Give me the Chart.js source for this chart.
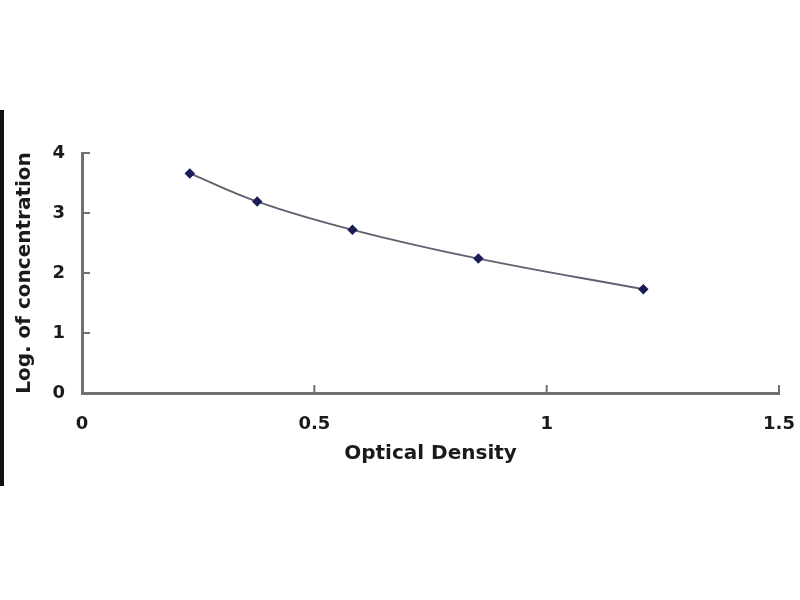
<!DOCTYPE html>
<html>
<head>
<meta charset="utf-8">
<script src="https://cdn.jsdelivr.net/npm/chart.js@4/dist/chart.umd.min.js"></script>
<style>
  html, body { margin: 0; padding: 0; background: #fff; }
  #wrap { position: relative; width: 800px; height: 600px; }
  #edge { position: absolute; left: 0; top: 110px; width: 4px; height: 376px; background: #111; }
</style>
</head>
<body>
<div id="wrap">
  <canvas id="stdCurve" width="800" height="600"></canvas>
  <div id="edge"></div>
</div>
<script>
// standard curve readings
const opticalDensity = [0.232, 0.377, 0.582, 0.853, 1.208];
const logConcentration = [3.66, 3.19, 2.72, 2.24, 1.73];
const xTicks = [0, 0.5, 1, 1.5];
const yTicks = [0, 1, 2, 3, 4];

const axisColor = '#707070';
const labelFont = { family: 'DejaVu Sans', size: 18, weight: 'bold' };
const titleFont = { family: 'DejaVu Sans', size: 20, weight: 'bold' };

// Excel style ticks pointing into the plot
const innerTicks = {
    id: 'innerTicks',
    afterDraw(chart) {
        const c = chart.ctx;
        const x = chart.scales.x, y = chart.scales.y;
        c.save();
        c.strokeStyle = axisColor;
        c.lineWidth = 2;
        c.beginPath();
        xTicks.forEach(v => {
            const px = x.getPixelForValue(v);
            c.moveTo(px, y.bottom);
            c.lineTo(px, y.bottom - 8);
        });
        yTicks.forEach(v => {
            const py = y.getPixelForValue(v);
            c.moveTo(x.left, py);
            c.lineTo(x.left + 8, py);
        });
        c.stroke();
        c.restore();
    }
};

const points = opticalDensity.map((od, i) => ({ x: od, y: logConcentration[i] }));

new Chart(document.getElementById('stdCurve').getContext('2d'), {
    type: 'scatter',
    data: {
        datasets: [{
            data: points,
            showLine: true,
            tension: 0.4,
            borderColor: '#606070',
            borderWidth: 1.8,
            pointStyle: 'rectRot',
            pointRadius: 4,
            pointBackgroundColor: '#1c1c58',
            pointBorderColor: '#1c1c58'
        }]
    },
    options: {
        responsive: false,
        animation: false,
        layout: { padding: { left: 0, right: 21, top: 153, bottom: 130 } },
        plugins: { legend: { display: false }, tooltip: { enabled: false } },
        scales: {
            x: {
                type: 'linear',
                min: 0,
                max: 1.5,
                afterBuildTicks: s => { s.ticks = xTicks.map(v => ({ value: v })); },
                afterFit: s => { s.height = 77; s.paddingLeft = 0; s.paddingRight = 0; },
                grid: { display: false, drawTicks: false },
                border: { display: true, color: axisColor, width: 3 },
                ticks: { color: '#1a1a1a', font: labelFont, padding: 21, maxRotation: 0, callback: v => String(v) },
                title: { display: true, text: 'Optical Density', color: '#1a1a1a', font: titleFont, padding: { top: 0, bottom: 4 } }
            },
            y: {
                type: 'linear',
                min: 0,
                max: 4,
                afterBuildTicks: s => { s.ticks = yTicks.map(v => ({ value: v })); },
                afterFit: s => { s.width = 82; s.paddingTop = 0; s.paddingBottom = 0; },
                grid: { display: false, drawTicks: false },
                border: { display: true, color: axisColor, width: 3 },
                ticks: { color: '#1a1a1a', font: labelFont, padding: 17 },
                title: { display: true, text: 'Log. of concentration', color: '#1a1a1a', font: titleFont,
                         padding: { top: 13, bottom: 0 } }
            }
        }
    },
    plugins: [innerTicks]
});
</script>
</body>
</html>
